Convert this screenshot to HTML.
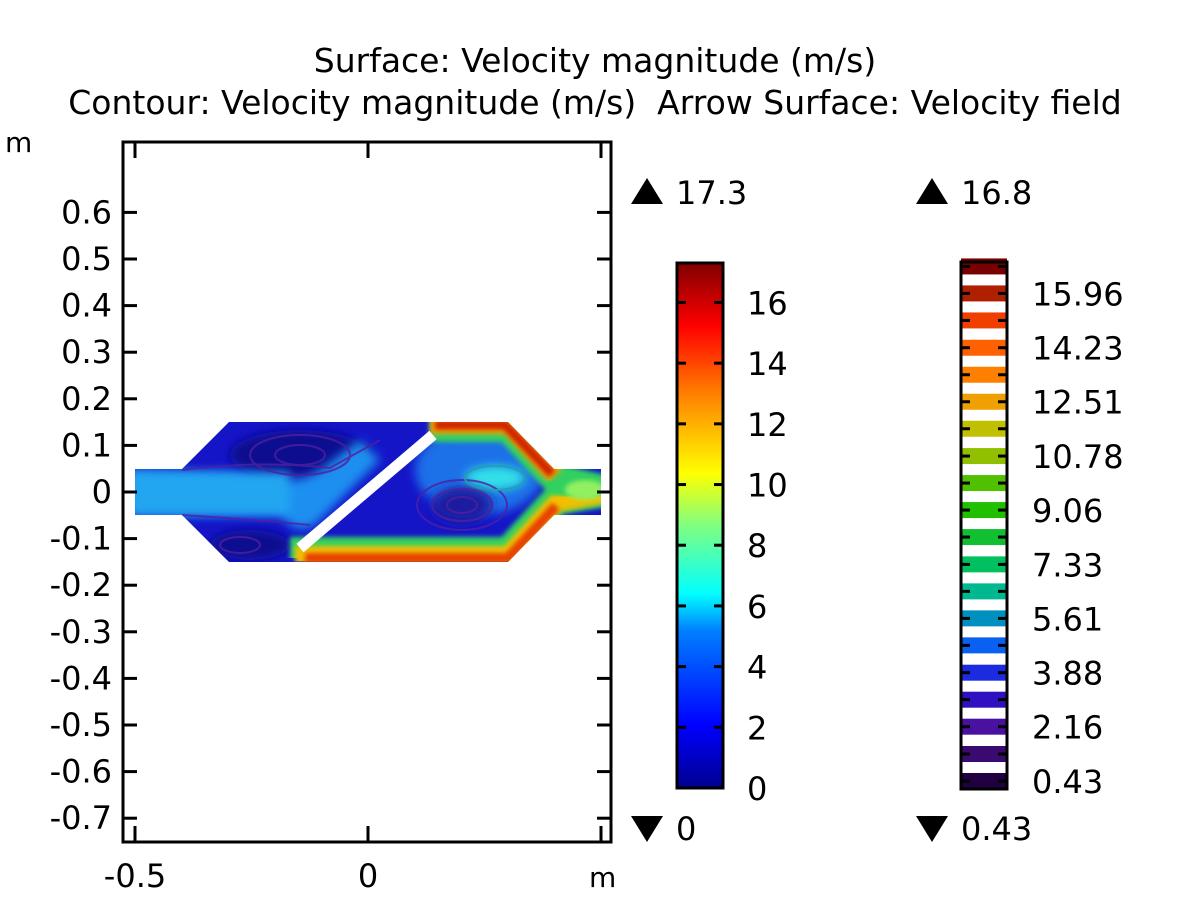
<!DOCTYPE html>
<html><head><meta charset="utf-8"><style>
body{margin:0;background:#fff;}
svg text{font-family:"DejaVu Sans","Liberation Sans",sans-serif;font-size:32px;fill:#000;white-space:pre;}
</style></head><body>
<svg id="chart" width="1200" height="900" viewBox="0 0 1200 900">
<defs>
<clipPath id="dom"><polygon points="135,469 182,469 229,422 508,422 554,469 601,469 601,515 554,515 508,562 229,562 182,515 135,515"/></clipPath>
<filter id="bl" x="-20%" y="-50%" width="140%" height="200%"><feGaussianBlur stdDeviation="5"/></filter>
<filter id="bl2"><feGaussianBlur stdDeviation="2.5"/></filter>
<linearGradient id="jet" x1="0" y1="1" x2="0" y2="0">
<stop offset="0" stop-color="#00008f"/><stop offset="0.12" stop-color="#0000ff"/>
<stop offset="0.3" stop-color="#0080ff"/><stop offset="0.37" stop-color="#00ffff"/>
<stop offset="0.5" stop-color="#80ff80"/><stop offset="0.6" stop-color="#ffff00"/>
<stop offset="0.75" stop-color="#ff8000"/><stop offset="0.88" stop-color="#ff0000"/>
<stop offset="1" stop-color="#800000"/></linearGradient>
</defs>
<text x="595" y="72" text-anchor="middle" style="font-size:33px">Surface: Velocity magnitude (m/s)</text>
<text x="595" y="114" text-anchor="middle" style="font-size:33px">Contour: Velocity magnitude (m/s)  Arrow Surface: Velocity field</text>
<text x="5" y="152" style="font-size:28px">m</text>
<text x="589" y="887" style="font-size:28px">m</text>

<g clip-path="url(#dom)">
<rect x="130" y="415" width="480" height="150" fill="#1515c8"/>
<ellipse cx="300" cy="455" rx="70" ry="25" fill="#0a0a90" filter="url(#bl)"/>
<ellipse cx="250" cy="545" rx="40" ry="15" fill="#0a0a90" filter="url(#bl)"/>
<path d="M130,470 L230,475 Q290,490 320,470 L360,440 L380,460 L320,520 Q300,540 280,515 L130,515 Z" fill="#1a8ff0" filter="url(#bl)"/>
<rect x="130" y="472" width="160" height="42" fill="#22a6f0" filter="url(#bl)"/>
<ellipse cx="480" cy="470" rx="65" ry="45" fill="#1a70e8" filter="url(#bl)"/>
<ellipse cx="495" cy="478" rx="30" ry="12" fill="#30e0e8" filter="url(#bl)"/>
<ellipse cx="462" cy="505" rx="30" ry="18" fill="#1a1aa0" filter="url(#bl)"/>
<polyline points="290,552 508,552 556,500 605,492" fill="none" stroke="#30d060" stroke-width="30" filter="url(#bl2)"/>
<polyline points="295,555 508,555 556,503 605,494" fill="none" stroke="#f0c000" stroke-width="18" filter="url(#bl2)"/>
<polyline points="305,558 508,558 556,506" fill="none" stroke="#e84000" stroke-width="10" filter="url(#bl2)"/>
<polyline points="430,427 508,427 556,479 605,490" fill="none" stroke="#30d060" stroke-width="30" filter="url(#bl2)"/>
<polyline points="430,425 508,425 555,476" fill="none" stroke="#f0a000" stroke-width="18" filter="url(#bl2)"/>
<polyline points="435,425 505,425 552,474" fill="none" stroke="#d02000" stroke-width="9" filter="url(#bl2)"/>
<ellipse cx="585" cy="490" rx="20" ry="10" fill="#90f060" filter="url(#bl2)"/>
<g fill="none" stroke="#5020a0" stroke-width="2" opacity="0.8">
<ellipse cx="300" cy="455" rx="25" ry="10"/><ellipse cx="300" cy="455" rx="50" ry="20"/>
<ellipse cx="462" cy="505" rx="15" ry="8"/><ellipse cx="462" cy="505" rx="30" ry="16"/><ellipse cx="462" cy="505" rx="45" ry="25"/>
<ellipse cx="240" cy="545" rx="20" ry="8"/><ellipse cx="495" cy="478" rx="30" ry="12" stroke="#20a0a0"/>
<path d="M182,470 Q260,460 330,468 L380,440"/><path d="M182,515 Q260,520 310,525"/>
</g>
</g>
<line x1="300" y1="548" x2="433" y2="435" stroke="#fff" stroke-width="11"/>

<rect x="123" y="142" width="488" height="700" fill="none" stroke="#000" stroke-width="3"/>
<g id="axes"></g>
<g id="cb1"></g>
<g id="cb2"></g>
</svg>
<script>
const yTicks=[0.6,0.5,0.4,0.3,0.2,0.1,0,-0.1,-0.2,-0.3,-0.4,-0.5,-0.6,-0.7];
const xTicks=[-0.5,0,0.5];
const xTickLabels=["-0.5","0",""];
const cbTicks=[0,2,4,6,8,10,12,14,16];
const cbMax=17.3, cbMin=0;
const levels=[0.43,1.29,2.16,3.02,3.88,4.75,5.61,6.47,7.33,8.2,9.06,9.92,10.78,11.65,12.51,13.37,14.23,15.1,15.96,16.82];
const levelColors=["#200040","#3a0a70","#4a10a0","#3010c0","#1a2be0","#0a60f0","#0090c0","#00b890","#00c060","#10c030","#20c000","#50c000","#90c000","#c0c000","#f0a000","#ff8000","#ff6000","#f04000","#b02000","#780000"];
const levelLabels=[0.43,2.16,3.88,5.61,7.33,9.06,10.78,12.51,14.23,15.96];
const NS="http://www.w3.org/2000/svg";
const X=v=>368+466*v, Y=v=>492-466*v;
function mk(p,t,a){const e=document.createElementNS(NS,t);for(const k in a)e.setAttribute(k,a[k]);p.appendChild(e);return e;}
const ax=document.getElementById('axes');
yTicks.forEach(v=>{const y=Y(v);
 let l=mk(ax,'line',{x1:123,x2:137,y1:y,y2:y,stroke:'#000','stroke-width':3});
 
 
 l=mk(ax,'line',{x1:597,x2:611,y1:y,y2:y,stroke:'#000','stroke-width':3});
 
 
 const t=mk(ax,'text',{x:112,y:y+11,'text-anchor':'end'});t.textContent=String(v);
 
 });
xTicks.forEach((v,i)=>{const x=X(v);
 let l=mk(ax,'line',{x1:x,x2:x,y1:142,y2:158,stroke:'#000','stroke-width':3});
 
 
 l=mk(ax,'line',{x1:x,x2:x,y1:826,y2:842,stroke:'#000','stroke-width':3});
 
 
 const t=mk(ax,'text',{x:x,y:887,'text-anchor':'middle'});t.textContent=xTickLabels[i];
 
 });
const c1=document.getElementById('cb1');
const CY=v=>788-(v-cbMin)/(cbMax-cbMin)*525;
let r=mk(c1,'rect',{x:677,y:CY(cbMax),width:46,height:CY(cbMin)-CY(cbMax),fill:'url(#jet)',stroke:'#000','stroke-width':3});


cbTicks.forEach(v=>{const y=CY(v);
 if(v>cbMin){mk(c1,'line',{x1:677,x2:686,y1:y,y2:y,stroke:'#000','stroke-width':3});mk(c1,'line',{x1:714,x2:723,y1:y,y2:y,stroke:'#000','stroke-width':3});}
 const t=mk(c1,'text',{x:747,y:y+12});t.textContent=v;
 
 });
function tri(p,x,y,up,label,name){
 const pts=up?`${x-16},${y+12} ${x+16},${y+12} ${x},${y-14}`:`${x-16},${y-12} ${x+16},${y-12} ${x},${y+14}`;
 const g=mk(p,'polygon',{points:pts,fill:'#000'});
 
 
 const t=mk(p,'text',{x:x+29,y:y+12});t.textContent=label;
 
 }
tri(c1,647,192,true,'17.3','surface-max');
tri(c1,647,828,false,'0','surface-min');
const c2=document.getElementById('cb2');
const DY=v=>781-(v-levels[0])/(levels[1]-levels[0])*27;
mk(c2,'rect',{x:961,y:262,width:46,height:527,fill:'#fff'});
levels.forEach((v,i)=>{const y=DY(v);
 const b=mk(c2,'rect',{x:961,y:y-8,width:46,height:16,fill:levelColors[i]});
 
 
 mk(c2,'line',{x1:961,x2:970,y1:y,y2:y,stroke:'#000','stroke-width':3});
 mk(c2,'line',{x1:998,x2:1007,y1:y,y2:y,stroke:'#000','stroke-width':3});});
r=mk(c2,'rect',{x:961,y:262,width:46,height:527,fill:'none',stroke:'#000','stroke-width':3});


levelLabels.forEach(v=>{const t=mk(c2,'text',{x:1032,y:DY(v)+12});t.textContent=v.toFixed(2);
 
 });
tri(c2,932,192,true,'16.8','contour-max');
tri(c2,932,828,false,'0.43','contour-min');
</script>
</body></html>
